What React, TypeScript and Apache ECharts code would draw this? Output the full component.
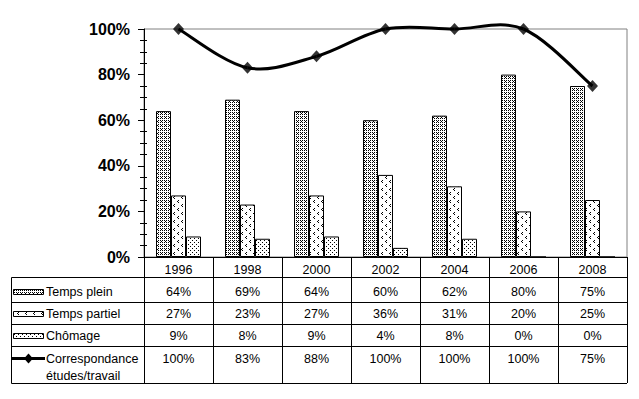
import React, { useEffect, useRef } from 'react';
import * as echarts from 'echarts';

const years = ['1996', '1998', '2000', '2002', '2004', '2006', '2008'];
const tempsPlein = [64, 69, 64, 60, 62, 80, 75];
const tempsPartiel = [27, 23, 27, 36, 31, 20, 25];
const chomage = [9, 8, 9, 4, 8, 0, 0];
const correspondance = [100, 83, 88, 100, 100, 100, 75];
const seriesNames = ['Temps plein', 'Temps partiel', 'Chômage', 'Correspondance\nétudes/travail'];

const FONT = '"Liberation Sans", Arial, sans-serif';

function makePattern(w: number, h: number, pts: number[][]) {
  const c = document.createElement('canvas');
  c.width = w;
  c.height = h;
  const ctx = c.getContext('2d')!;
  ctx.fillStyle = '#ffffff';
  ctx.fillRect(0, 0, w, h);
  ctx.fillStyle = '#000000';
  pts.forEach(([x, y]) => ctx.fillRect(x, y, 1, 1));
  return { image: c as any, repeat: 'repeat' };
}

export default function App() {
  const ref = useRef<HTMLDivElement>(null);
  useEffect(() => {
    const chart = echarts.init(ref.current!, null, { renderer: 'svg' });
    const pPlein = makePattern(4, 4, [[0, 0], [2, 0], [0, 2], [2, 2], [1, 1]]);
    const pPartiel = makePattern(8, 8, [[2, 0], [1, 1], [2, 2], [6, 4], [5, 5], [6, 6]]);
    const pChom = makePattern(4, 4, [[0, 0], [2, 2]]);
    const patterns = [pPlein, pPartiel, pChom];
    const n = correspondance.length;

    chart.setOption({
      animation: false,
      grid: {
        left: 144, right: 12, top: 29, bottom: 142,
        show: true, borderColor: '#808080', borderWidth: 1, backgroundColor: 'transparent',
      },
      xAxis: {
        type: 'category',
        data: years,
        axisLine: { show: true, lineStyle: { color: '#000', width: 1 } },
        axisTick: { show: true, alignWithLabel: false, length: 126, lineStyle: { color: '#000', width: 1 } },
        axisLabel: { show: true, color: '#000', fontFamily: FONT, fontSize: 12.5, margin: 6, verticalAlign: 'top' },
        splitLine: { show: false },
      },
      yAxis: [
        {
          type: 'value', position: 'left', min: 0, max: 100, interval: 20,
          axisLine: { show: true, lineStyle: { color: '#000', width: 1 } },
          axisTick: { show: true, length: 6, lineStyle: { color: '#000' } },
          axisLabel: { formatter: '{value}%', color: '#000', fontFamily: FONT, fontSize: 16, fontWeight: 'bold', margin: 14 },
          splitLine: { show: false },
        },
        {
          type: 'value', position: 'left', min: 0, max: 100, interval: 20, offset: -3,
          axisLine: { show: false },
          axisTick: { show: false },
          axisLabel: { show: false },
          splitLine: { show: false },
          minorTick: { show: true, splitNumber: 4, length: 7, lineStyle: { color: '#000', width: 1 } },
          minorSplitLine: { show: false },
        },
      ],
      series: [
        {
          name: seriesNames[0], type: 'bar', data: tempsPlein, barGap: '0%', barWidth: 15,
          itemStyle: { color: pPlein, borderColor: '#000', borderWidth: 1 },
        },
        {
          name: seriesNames[1], type: 'bar', data: tempsPartiel, barGap: '0%', barWidth: 15,
          itemStyle: { color: pPartiel, borderColor: '#000', borderWidth: 1 },
        },
        {
          name: seriesNames[2], type: 'bar', data: chomage, barGap: '0%', barWidth: 15,
          itemStyle: { color: pChom, borderColor: '#000', borderWidth: 1 },
        },
        {
          name: seriesNames[3], type: 'custom', clip: false, z: 5,
          data: correspondance.map((v, i) => [i, v]),
          encode: { x: 0, y: 1 },
          renderItem: (params: any, api: any) => {
            const i = params.dataIndex;
            if (i >= n - 1) return null;
            const pt = (k: number) => {
              const kk = Math.max(0, Math.min(n - 1, k));
              return api.coord([kk, correspondance[kk]]);
            };
            const p0 = pt(i - 1), p1 = pt(i), p2 = pt(i + 1), p3 = pt(i + 2);
            return {
              type: 'bezierCurve',
              shape: {
                x1: p1[0], y1: p1[1], x2: p2[0], y2: p2[1],
                cpx1: p1[0] + (p2[0] - p0[0]) / 6, cpy1: p1[1] + (p2[1] - p0[1]) / 6,
                cpx2: p2[0] - (p3[0] - p1[0]) / 6, cpy2: p2[1] - (p3[1] - p1[1]) / 6,
              },
              style: { stroke: '#000', lineWidth: 3, fill: null },
            };
          },
        },
        {
          name: seriesNames[3] + ' ', type: 'scatter', z: 6, data: correspondance,
          symbol: 'diamond', symbolSize: [11, 12],
          itemStyle: { color: '#000' },
        },
      ],
    });

    const cx = years.map((y) => chart.convertToPixel({ xAxisIndex: 0 }, y) as number);
    const band = cx.length > 1 ? cx[1] - cx[0] : 69;
    const tableLeft = 11.5;
    const tableRight = cx[cx.length - 1] + band / 2;
    const rowLines = [277.5, 302.5, 324.5, 346.5, 383.5];
    const textY = [292, 314, 336, 358.5];
    const rows = [tempsPlein, tempsPartiel, chomage, correspondance];

    const g: any[] = [];
    rowLines.forEach((y) => {
      g.push({ type: 'line', shape: { x1: tableLeft, y1: y, x2: tableRight, y2: y }, style: { stroke: '#000', lineWidth: 1 }, silent: true });
    });
    g.push({ type: 'line', shape: { x1: tableLeft, y1: rowLines[0], x2: tableLeft, y2: rowLines[4] }, style: { stroke: '#000', lineWidth: 1 } });

    rows.forEach((vals, r) => {
      vals.forEach((v, i) => {
        g.push({
          type: 'text', x: cx[i], y: textY[r],
          style: { text: v + '%', fill: '#000', font: `12.5px ${FONT}`, align: 'center', verticalAlign: 'middle' },
        });
      });
    });

    // legend keys
    for (let r = 0; r < 3; r++) {
      g.push({
        type: 'rect', shape: { x: 13.5, y: textY[r] - 2.5, width: 30, height: 5 },
        style: { fill: patterns[r], stroke: '#000', lineWidth: 1 },
      });
    }
    g.push({ type: 'line', shape: { x1: 12, y1: textY[3], x2: 45, y2: textY[3] }, style: { stroke: '#000', lineWidth: 3 } });
    g.push({
      type: 'polygon',
      shape: { points: [[28.5, textY[3] - 5], [33, textY[3]], [28.5, textY[3] + 5], [24, textY[3]]] },
      style: { fill: '#000' },
    });
    g.push({ type: 'text', x: 46, y: textY[0], style: { text: seriesNames[0], fill: '#000', font: `12.5px ${FONT}`, verticalAlign: 'middle' } });
    g.push({ type: 'text', x: 46, y: textY[1], style: { text: seriesNames[1], fill: '#000', font: `12.5px ${FONT}`, verticalAlign: 'middle' } });
    g.push({ type: 'text', x: 46, y: textY[2], style: { text: seriesNames[2], fill: '#000', font: `12.5px ${FONT}`, verticalAlign: 'middle' } });
    const corr = seriesNames[3].split('\n');
    g.push({ type: 'text', x: 46, y: textY[3], style: { text: corr[0], fill: '#000', font: `12.5px ${FONT}`, verticalAlign: 'middle' } });
    g.push({ type: 'text', x: 46, y: 376, style: { text: corr[1], fill: '#000', font: `12.5px ${FONT}`, verticalAlign: 'middle' } });

    chart.setOption({ graphic: g });

    return () => chart.dispose();
  }, []);
  return <div ref={ref} style={{ position: 'fixed', left: 0, top: 0, width: 639, height: 399, background: '#fff' }} />;
}
